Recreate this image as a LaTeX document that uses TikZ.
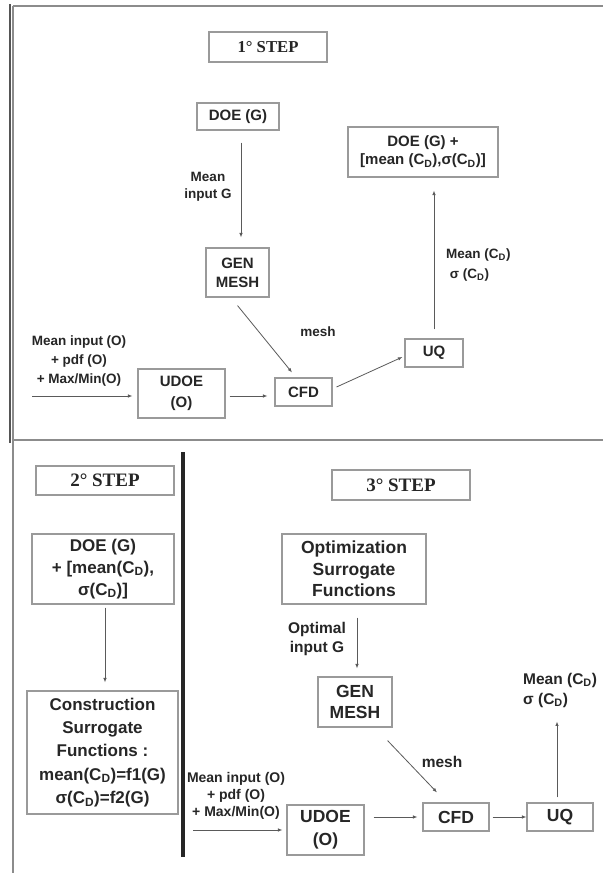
\documentclass[tikz,border=0pt]{standalone}
\usepackage{fontspec}
\setmainfont{Liberation Sans}
\newfontfamily\stepfont{Liberation Serif}
\usetikzlibrary{arrows.meta}
\definecolor{boxgray}{HTML}{9A9A9A}
\definecolor{arrgray}{HTML}{5A5A5A}
\definecolor{txt}{HTML}{262626}
\definecolor{framegray}{HTML}{8C8C8C}
\definecolor{framedark}{HTML}{555555}
\newcommand\CD{C\textsubscript{D}}
\newcommand\fsz[2]{\fontsize{#1}{#2}\selectfont\bfseries}
\begin{document}
\begin{tikzpicture}[x=1pt,y=-1pt,
  box/.style={draw=boxgray, line width=1.1pt, align=center, inner sep=0pt, text=txt},
  lbl/.style={align=center, inner sep=0pt, text=txt},
  arr/.style={draw=arrgray, line width=0.8pt, -{Latex[length=4.5pt,width=3.5pt]}},
  frame/.style={draw=framegray, line width=2pt}]
\useasboundingbox (0,0) rectangle (603,873);
\fill[white] (0,0) rectangle (603,873);
% frames
\draw[draw=framedark, line width=1.5pt] (10,4) -- (10,443);
\draw[frame] (13,6) -- (13,873);
\draw[frame] (13,6) -- (603,6);
\draw[frame] (13,440) -- (603,440);
\draw[draw=txt, line width=3.5pt] (183,452) -- (183,857);

% ---------- 1st step ----------
\node[box, minimum width=118pt, minimum height=30pt, font=\stepfont\fsz{16.7}{20}] (step1) at (268,47) {1° STEP};
\node[box, minimum width=82pt, minimum height=27pt, font=\fsz{15}{18}] (doe1) at (238,116.5) {DOE (G)};
\node[box, minimum width=150pt, minimum height=50pt, font=\fsz{15}{18}] (res1) at (423,152) {DOE (G) +\\{}[mean (\CD),σ(\CD)]};
\node[box, minimum width=63pt, minimum height=49pt, font=\fsz{15}{19}] (gen1) at (237.5,272.5) {GEN\\MESH};
\node[box, minimum width=87pt, minimum height=49pt, font=\fsz{15}{21}] (udoe1) at (181.5,393.5) {UDOE\\(O)};
\node[box, minimum width=57pt, minimum height=28pt, font=\fsz{15}{18}] (cfd1) at (303.5,392) {CFD};
\node[box, minimum width=58pt, minimum height=28pt, font=\fsz{15}{18}] (uq1) at (434,353) {UQ};

\node[lbl, font=\fsz{13.5}{17}] (lmig) at (208,186.5) {Mean\\input G};
\node[lbl, font=\fsz{13.5}{17}] (lmesh1) at (318,332) {mesh};
\node[lbl, font=\fsz{13.5}{19}] (lin1) at (79,361) {Mean input (O)\\+ pdf (O)\\+ Max/Min(O)};
\node[lbl, font=\fsz{13.5}{20}, align=left, anchor=west] (lcd1) at (446,265) {Mean (\CD)\\\ σ (\CD)};

\coordinate (in1) at (32,396);
\coordinate (u1e) at ([yshift=-2.5pt]udoe1.east);
\coordinate (d1s) at ([xshift=3pt]doe1.south);

\draw[arr, shorten <=12pt, shorten >=10pt] (d1s) -- (d1s |- gen1.north);
\draw[arr] ([yshift=-8pt]gen1.south) -- ([xshift=-11.5pt,yshift=5pt]cfd1.north);
\draw[arr, shorten >=5pt] (in1) -- (in1 -| udoe1.west);
\draw[arr, shorten <=4pt, shorten >=7pt] (u1e) -- (u1e -| cfd1.west);
\draw[arr] ([xshift=4pt,yshift=5pt]cfd1.east) -- ([xshift=-2pt,yshift=-4pt]uq1.west);
\draw[arr, shorten <=9pt, shorten >=13pt] (uq1.north) -- (uq1.north |- res1.south);

% ---------- 2nd step ----------
\node[box, minimum width=138pt, minimum height=29pt, font=\stepfont\fsz{19}{22}] (step2) at (105,480.5) {2° STEP};
\node[box, minimum width=142pt, minimum height=70pt, font=\fsz{17}{22}] (doe2) at (103,569) {DOE (G)\\+ [mean(\CD),\\σ(\CD)]};
\node[box, minimum width=151pt, minimum height=123pt, font=\fsz{17}{23.3}] (cons2) at (102.5,752.5) {Construction\\Surrogate\\Functions :\\mean(\CD)=f1(G)\\σ(\CD)=f2(G)};
\coordinate (d2s) at ([xshift=2pt]doe2.south);
\draw[arr, shorten <=3pt, shorten >=8pt] (d2s) -- (d2s |- cons2.north);

% ---------- 3rd step ----------
\node[box, minimum width=138pt, minimum height=30pt, font=\stepfont\fsz{19}{22}] (step3) at (401,485) {3° STEP};
\node[box, minimum width=144pt, minimum height=70pt, font=\fsz{17.5}{21.5}] (opt3) at (354,569) {Optimization\\Surrogate\\Functions};
\node[box, minimum width=74pt, minimum height=50pt, font=\fsz{17.5}{21}] (gen3) at (355,702) {GEN\\MESH};
\node[box, minimum width=77pt, minimum height=50pt, font=\fsz{17.5}{23}] (udoe3) at (325.5,830) {UDOE\\(O)};
\node[box, minimum width=66pt, minimum height=28pt, font=\fsz{17.5}{20}] (cfd3) at (456,817) {CFD};
\node[box, minimum width=66pt, minimum height=28pt, font=\fsz{17.5}{20}] (uq3) at (560,817) {UQ};

\node[lbl, font=\fsz{15.5}{19}] (lopt) at (317,638.5) {Optimal\\input G};
\node[lbl, font=\fsz{15.5}{19}] (lmesh3) at (442,762) {mesh};
\node[lbl, font=\fsz{14}{17}] (lin3) at (236,796) {Mean input (O)\\+ pdf (O)\\+ Max/Min(O)};
\node[lbl, font=\fsz{15.5}{20}, align=left, anchor=west] (lcd3) at (523,690) {Mean (\CD)\\σ (\CD)};

\coordinate (o3s) at ([xshift=3pt]opt3.south);
\coordinate (in3) at (193,830);
\coordinate (u3) at (udoe3.east |- cfd3.west);
\coordinate (q3n) at ([xshift=-3pt]uq3.north);
\coordinate (q3t) at ([xshift=-3pt,yshift=81pt]uq3.north);

\draw[arr, shorten <=13pt, shorten >=8pt] (o3s) -- (o3s |- gen3.north);
\draw[arr] ([xshift=-5pt,yshift=-13pt]gen3.south east) -- ([xshift=-19pt,yshift=10pt]cfd3.north);
\draw[arr, shorten >=4pt] (in3) -- (in3 -| udoe3.west);
\draw[arr, shorten <=9pt, shorten >=5pt] (u3) -- (cfd3.west);
\draw[arr, shorten <=3pt] (cfd3.east) -- (uq3.west);
\draw[arr, shorten <=5pt] (q3n) -- (q3t);
\end{tikzpicture}
\end{document}
